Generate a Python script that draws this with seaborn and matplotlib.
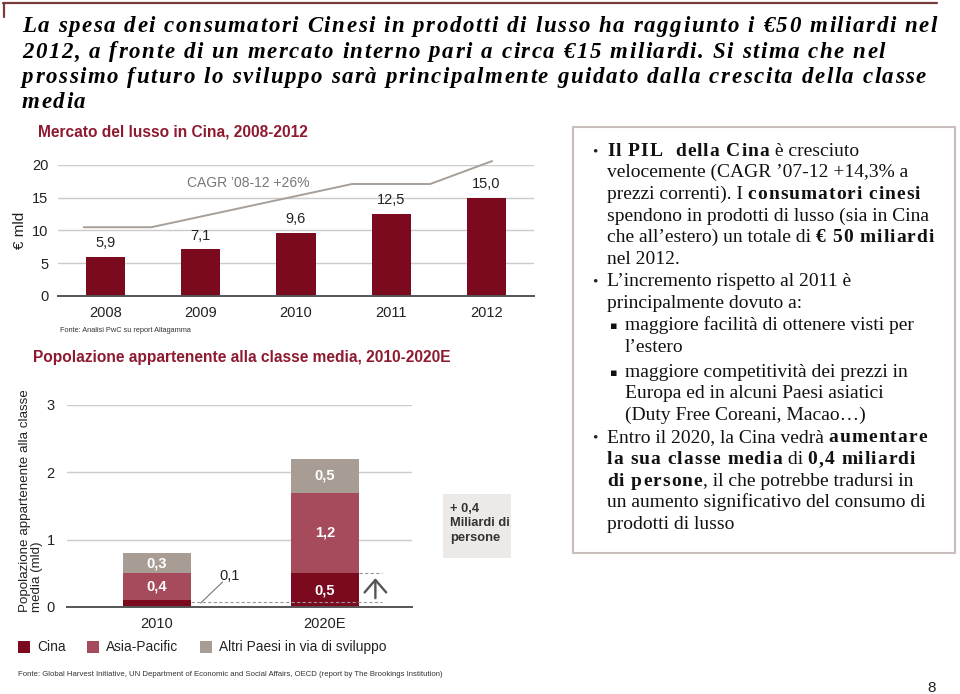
import numpy as np
import pandas as pd
import matplotlib
matplotlib.use("Agg")
import matplotlib.pyplot as plt
import seaborn as sns
from matplotlib.patches import Rectangle
from matplotlib.lines import Line2D
from matplotlib.font_manager import FontProperties

# ---------------- data ----------------
lux_years = ["2008", "2009", "2010", "2011", "2012"]
lux_values = [5.9, 7.1, 9.6, 12.5, 15.0]
lux_yticks = [0, 5, 10, 15, 20]

mc_periods = ["2010", "2020E"]
mc_cina = [0.1, 0.5]
mc_asia = [0.4, 1.2]
mc_altri = [0.3, 0.5]
mc_yticks = [0, 1, 2, 3]
series_names = ["Cina", "Asia-Pacific", "Altri Paesi in via di sviluppo"]

C_CINA = "#7c0a1f"
C_ASIA = "#a54b5c"
C_ALTRI = "#a89d95"
C_TITLE = "#8e1a30"
C_GRID = "#cbcbcb"

sns.set_theme(style="white")
plt.rcParams["font.family"] = ["Liberation Sans", "DejaVu Sans"]

W, H = 960, 694
fig = plt.figure(figsize=(9.6, 6.94), dpi=100)
fig.patch.set_facecolor("white")


def T(x, y, s, **kw):
    return fig.text(x / W, 1 - y / H, s, **kw)


def axes_px(l, t, r, b):
    return fig.add_axes([l / W, 1 - b / H, (r - l) / W, (b - t) / H])


def fmt(v):
    return f"{v:.1f}".replace(".", ",")


renderer = fig.canvas.get_renderer()
_cache = {}


def adv(s, fp):
    key = (s, fp.get_family()[0], fp.get_weight(), fp.get_style(), fp.get_size())
    if key not in _cache:
        w1, _, _ = renderer.get_text_width_height_descent("x" + s + "x", fp, ismath=False)
        w0, _, _ = renderer.get_text_width_height_descent("xx", fp, ismath=False)
        _cache[key] = w1 - w0
    return _cache[key]


def draw_spaced(x, y, s, fp, spacing=0.0, color="black"):
    if spacing == 0:
        T(x, y, s, fontproperties=fp, color=color, va="baseline", ha="left")
        return x + adv(s, fp)
    for ch in s:
        T(x, y, ch, fontproperties=fp, color=color, va="baseline", ha="left")
        x += adv(ch, fp) + spacing
    return x


# ---------------- top border ----------------
fig.add_artist(Line2D([3 / W, 937 / W], [1 - 2.5 / H, 1 - 2.5 / H], color="#7a3b3b", lw=1.6))
fig.add_artist(Line2D([4 / W, 4 / W], [1 - 2.5 / H, 1 - 17 / H], color="#7a3b3b", lw=1.6))

# ---------------- slide title ----------------
title_lines = [
    "La spesa dei consumatori Cinesi in prodotti di lusso ha raggiunto i €50 miliardi nel",
    "2012, a fronte di un mercato interno pari a circa €15 miliardi. Si stima che nel",
    "prossimo futuro lo sviluppo sarà principalmente guidato dalla crescita della classe",
    "media",
]
fp_title = FontProperties(family="Liberation Serif", style="italic", weight="bold", size=16.5)
nat = sum(adv(c, fp_title) for c in title_lines[0])
title_sp = (915 - nat) / (len(title_lines[0]) - 1)
for i, line in enumerate(title_lines):
    draw_spaced(22, 32 + i * 25.5, line, fp_title, title_sp)

# ---------------- top chart ----------------
T(38, 132, "Mercato del lusso in Cina, 2008-2012", fontsize=11.2, fontweight="bold",
  color=C_TITLE, va="center", ha="left")

ax1 = axes_px(58, 165, 534, 296)
sns.barplot(x=lux_years, y=lux_values, color=C_CINA, saturation=1, width=0.41,
            linewidth=0, edgecolor="none", ax=ax1)
ax1.set_xlim(-0.5, len(lux_years) - 0.5)
ax1.set_ylim(0, 20)
ax1.set_yticks(lux_yticks)
ax1.set_yticklabels([str(t) for t in lux_yticks])
ax1.yaxis.grid(True, color=C_GRID, lw=1)
ax1.set_axisbelow(True)
for s in ["top", "left", "right"]:
    ax1.spines[s].set_visible(False)
ax1.spines["bottom"].set_color("#555")
ax1.spines["bottom"].set_linewidth(1.4)
ax1.set_xticks(np.arange(-0.5, len(lux_years)), minor=True)
ax1.tick_params(axis="x", which="major", length=0, labelsize=10.5, pad=7, labelcolor="#222")
ax1.tick_params(axis="x", which="minor", length=4, width=1.2, color="#555", direction="out")
ax1.tick_params(axis="y", length=0, labelsize=10.5, pad=7, labelcolor="#222")
ax1.set_xlabel("")
ax1.set_ylabel("")
for i, v in enumerate(lux_values):
    ax1.annotate(fmt(v), (i, v), xytext=(0, 5), textcoords="offset points",
                 ha="center", va="bottom", fontsize=10.5, color="#222")
# CAGR trend line (decoration)
ax1.plot([-0.23, 0.48, 2.59, 3.41, 4.06], [10.5, 10.5, 17.1, 17.1, 20.6],
         color="#a79f98", lw=1.4, clip_on=False, zorder=3)
ax1.text(1.5, 17.3, "CAGR \u201908-12 +26%", ha="center", va="center", fontsize=10, color="#777")
T(20, 230, "€ mld", rotation=90, ha="center", va="center", fontsize=11, color="#222")
T(60, 330, "Fonte: Analisi PwC su report Altagamma", fontsize=5.3, color="#333", va="center")

# ---------------- bottom chart ----------------
T(33, 358, "Popolazione appartenente alla classe media, 2010-2020E", fontsize=11.2,
  fontweight="bold", color=C_TITLE, va="center", ha="left")

ax2 = axes_px(67, 405, 412, 607)
tot = [a + b + c for a, b, c in zip(mc_cina, mc_asia, mc_altri)]
mid = [a + b for a, b in zip(mc_cina, mc_asia)]
for yv, col in [(tot, C_ALTRI), (mid, C_ASIA), (mc_cina, C_CINA)]:
    sns.barplot(x=mc_periods, y=yv, color=col, saturation=1, width=0.41,
                linewidth=0, edgecolor="none", ax=ax2)
ax2.set_xlim(-0.536, 1.518)
ax2.set_ylim(0, 3)
ax2.set_yticks(mc_yticks)
ax2.set_yticklabels([str(t) for t in mc_yticks])
ax2.yaxis.grid(True, color=C_GRID, lw=1)
ax2.set_axisbelow(True)
for s in ["top", "left", "right"]:
    ax2.spines[s].set_visible(False)
ax2.spines["bottom"].set_color("#555")
ax2.spines["bottom"].set_linewidth(1.4)
ax2.set_xticks([-0.536, 0.5, 1.518], minor=True)
ax2.tick_params(axis="x", which="major", length=0, labelsize=10.5, pad=7, labelcolor="#222")
ax2.tick_params(axis="x", which="minor", length=4, width=1.2, color="#555", direction="out")
ax2.tick_params(axis="y", length=0, labelsize=10.5, pad=9, labelcolor="#222")
ax2.set_xlabel("")
ax2.set_ylabel("")

for i in range(len(mc_periods)):
    segs = [(mc_cina[i], 0), (mc_asia[i], mc_cina[i]), (mc_altri[i], mid[i])]
    for val, base in segs:
        if val >= 0.25:
            ax2.text(i, base + val / 2, fmt(val), ha="center", va="center",
                     fontsize=10.5, color="white", fontweight="bold")
        else:
            ax2.plot([0.26, 0.39], [0.06, 0.37], color="#777", lw=0.8)
            ax2.text(0.43, 0.46, fmt(val), ha="center", va="center", fontsize=10.5, color="#222")

ax2.plot([0.205, 1.34], [0.07, 0.07], ls=(0, (3, 2)), color="#999", lw=0.8, clip_on=False)
ax2.plot([1.205, 1.34], [mc_cina[1], mc_cina[1]], ls=(0, (3, 2)), color="#999", lw=0.8, clip_on=False)
ax2.annotate("", xy=(1.30, 0.47), xytext=(1.30, 0.09),
             arrowprops=dict(arrowstyle="->,head_length=0.3,head_width=0.26",
                             color="#555", lw=1.7, mutation_scale=30))

T(31, 612, "Popolazione appartenente alla classe\nmedia (mld)", rotation=90, ha="center",
  va="bottom", multialignment="left", fontsize=9.6, color="#222", linespacing=1.0)

fig.patches.append(Rectangle((443 / W, 1 - 558 / H), 68 / W, 64 / H, transform=fig.transFigure,
                             facecolor="#ece9e6", edgecolor="none"))
T(450, 503, "+ 0,4\nMiliardi di\npersone", ha="left", va="top", fontsize=9.3,
  fontweight="bold", color="#333", linespacing=1.25)

# legend
leg_x = [(18, 37), (87, 106), (200, 219)]
for (sx, tx), name, col in zip(leg_x, series_names, [C_CINA, C_ASIA, C_ALTRI]):
    fig.patches.append(Rectangle((sx / W, 1 - 653 / H), 12 / W, 12 / H, transform=fig.transFigure,
                                 facecolor=col, edgecolor="none"))
    T(tx, 647, name, ha="left", va="center", fontsize=9.9, color="#222")

T(18, 674, "Fonte: Global Harvest Initiative, UN Department of Economic and Social Affairs, OECD "
  "(report by The Brookings Institution)", fontsize=5.6, color="#333", va="center")

T(932, 688, "8", ha="center", va="center", fontsize=11, color="#222")

# ---------------- right text box ----------------
fig.patches.append(Rectangle((573 / W, 1 - 553 / H), 382 / W, 426 / H, transform=fig.transFigure,
                             facecolor="none", edgecolor="#c8bdbb", lw=1.5))
fp_r = FontProperties(family="Liberation Serif", size=14.0)
fp_b = FontProperties(family="Liberation Serif", size=14.0, weight="bold")
fp_bul = FontProperties(family="DejaVu Sans", size=8)
fp_dot = FontProperties(family="Liberation Serif", size=11)
right_lines = [
    (0, "•", [("Il PIL  della Cina", True), (" è cresciuto", False)]),
    (0, None, [("velocemente (CAGR \u201907-12 +14,3% a", False)]),
    (0, None, [("prezzi correnti). I ", False), ("consumatori cinesi", True)]),
    (0, None, [("spendono in prodotti di lusso (sia in Cina", False)]),
    (0, None, [("che all\u2019estero) un totale di ", False), ("€ 50 miliardi", True)]),
    (0, None, [("nel 2012.", False)]),
    (0, "•", [("L\u2019incremento rispetto al 2011 è", False)]),
    (0, None, [("principalmente dovuto a:", False)]),
    (1, "▪", [("maggiore facilità di ottenere visti per", False)]),
    (1, None, [("l\u2019estero", False)]),
    (1, "▪", [("maggiore competitività dei prezzi in", False)]),
    (1, None, [("Europa ed in alcuni Paesi asiatici", False)]),
    (1, None, [("(Duty Free Coreani, Macao\u2026)", False)]),
    (0, "•", [("Entro il 2020, la Cina vedrà ", False), ("aumentare", True)]),
    (0, None, [("la sua classe media", True), (" di ", False), ("0,4 miliardi", True)]),
    (0, None, [("di persone", True), (", il che potrebbe tradursi in", False)]),
    (0, None, [("un aumento significativo del consumo di", False)]),
    (0, None, [("prodotti di lusso", False)]),
]
centers = [151, 172, 194, 216, 237, 259, 281, 303, 325, 347, 372, 393, 415, 437, 459, 481, 502, 524]
for (lvl, bul, runs), cy in zip(right_lines, centers):
    base = cy + 5
    x0 = 607 if lvl == 0 else 625
    if bul == "•":
        T(592, base - 1, "•", fontproperties=fp_dot, va="baseline", ha="left", color="#222")
    elif bul == "▪":
        T(610, base - 1, "▪", fontproperties=fp_bul, va="baseline", ha="left", color="#111")
    x = x0
    for s, bold in runs:
        x = draw_spaced(x, base, s, fp_b if bold else fp_r, 1.0 if bold else 0.0, color="#111")

fig.savefig("out.png", dpi=100, facecolor="white")
